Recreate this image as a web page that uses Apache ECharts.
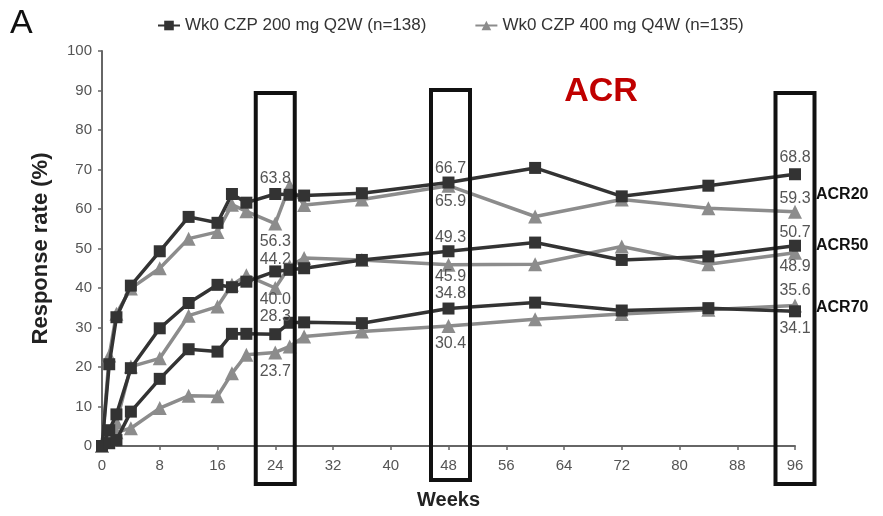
<!DOCTYPE html>
<html>
<head>
<meta charset="utf-8">
<script src="https://cdn.jsdelivr.net/npm/echarts@6/dist/echarts.min.js"></script>
<style>
html,body{margin:0;padding:0;background:#fff;}
#chart{width:883px;height:516px;}
</style>
</head>
<body>
<div id="chart"></div>
<script>
const weeks = [0,1,2,4,8,12,16,18,20,24,26,28,36,48,60,72,84,96];
const xTicks = [0,8,16,24,32,40,48,56,64,72,80,88,96];
const czp200_acr20 = [0,20.7,32.6,40.6,49.3,58.0,56.5,63.8,61.6,63.8,63.6,63.4,64.0,66.7,70.4,63.2,65.9,68.8];
const czp400_acr20 = [0,22.9,33.5,39.9,45.0,52.5,54.2,61.1,59.4,56.3,65.9,61.0,62.4,65.9,58.1,62.4,60.2,59.3];
const czp200_acr50 = [0,4.0,8.0,19.7,29.8,36.2,40.8,40.2,41.6,44.2,44.6,45.0,47.1,49.3,51.5,47.1,48.0,50.7];
const czp400_acr50 = [0,3.0,6.0,20.1,22.2,33.0,35.3,40.8,43.2,40.0,45.5,47.6,47.1,45.9,46.0,50.5,46.0,48.9];
const czp200_acr70 = [0,0.7,1.5,8.7,17.0,24.5,23.9,28.4,28.4,28.3,31.2,31.3,31.1,34.8,36.3,34.3,34.9,34.1];
const czp400_acr70 = [0,1.5,3.5,4.5,9.6,12.7,12.6,18.4,23.1,23.7,25.2,27.7,29.0,30.4,32.1,33.4,34.5,35.6];
const boxWeeks = [24,48,96];
const seriesNames = ['Wk0 CZP 200 mg Q2W (n=138)','Wk0 CZP 400 mg Q4W (n=135)'];
const endLabels = ['ACR20','ACR50','ACR70'];

const DARK = '#333333', GRAY = '#8c8c8c';
const FONT = '"Liberation Sans", Arial, sans-serif';

function mk(name, vals, dark, labelPos, labelDist) {
  const data = weeks.map((w, i) => {
    const k = boxWeeks.indexOf(w);
    if (k < 0) return [w, vals[i]];
    return {
      value: [w, vals[i]],
      label: {
        show: true, position: labelPos[k], distance: labelDist[k],
        offset: [w === 48 ? 2 : 0, 0],
        formatter: vals[i].toFixed(1), color: '#555', fontSize: 16, fontFamily: FONT
      }
    };
  });
  return {
    name: name, type: 'line', data: data,
    symbol: dark ? 'rect' : 'triangle',
    symbolSize: dark ? 12 : 14,
    lineStyle: { color: dark ? DARK : GRAY, width: 3.5 },
    itemStyle: { color: dark ? DARK : GRAY },
    z: dark ? 4 : 3,
    animation: false
  };
}

const chart = echarts.init(document.getElementById('chart'));
const option = {
  backgroundColor: '#fff',
  animation: false,
  legend: {
    left: 152, top: 12, itemGap: 48, itemWidth: 22, itemHeight: 12,
    data: seriesNames,
    textStyle: { fontSize: 17, color: '#333', fontFamily: FONT }
  },
  grid: { left: 102, right: 88, top: 51, bottom: 70 },
  xAxis: {
    type: 'value', min: 0, max: 96, interval: 8,
    name: 'Weeks', nameLocation: 'middle', nameGap: 44,
    nameTextStyle: { fontSize: 20, fontWeight: 'bold', color: '#222', fontFamily: FONT },
    axisLine: { lineStyle: { color: '#666', width: 2 } },
    axisTick: { length: 4, lineStyle: { color: '#666', width: 1.5 } },
    axisLabel: { color: '#555', fontSize: 15, margin: 12, fontFamily: FONT,
      customValues: xTicks },
    splitLine: { show: false }
  },
  yAxis: {
    type: 'value', min: 0, max: 100, interval: 10,
    name: 'Response rate (%)', nameLocation: 'middle', nameGap: 50, nameRotate: 90,
    nameTextStyle: { fontSize: 22, fontWeight: 'bold', color: '#222', fontFamily: FONT },
    axisLine: { show: true, lineStyle: { color: '#666', width: 2 } },
    axisTick: { show: true, length: 4, lineStyle: { color: '#666', width: 1.5 } },
    axisLabel: { color: '#555', fontSize: 15, margin: 10, fontFamily: FONT },
    splitLine: { show: false }
  },
  series: [
    mk(seriesNames[0], czp200_acr20, true, ['top','top','top'], [1,0,3]),
    mk(seriesNames[1], czp400_acr20, false, ['bottom','bottom','top'], [3,1,-2]),
    mk(seriesNames[0], czp200_acr50, true, ['top','top','top'], [-2,0,-1]),
    mk(seriesNames[1], czp400_acr50, false, ['bottom','bottom','bottom'], [-3,-3,-1]),
    mk(seriesNames[0], czp200_acr70, true, ['top','top','bottom'], [4,1,3]),
    mk(seriesNames[1], czp400_acr70, false, ['bottom','bottom','top'], [4,3,0])
  ]
};
chart.setOption(option);

const px = (x, y) => chart.convertToPixel({ gridIndex: 0 }, [x, y]);
const boxTops = [91, 88, 91];
const boxBottoms = [486, 482, 486];
const graphics = [];
boxWeeks.forEach((w, i) => {
  const c = px(w, 0)[0] + (w === 48 ? 2 : 0);
  graphics.push({
    type: 'rect', z: 100,
    shape: { x: c - 19.5, y: boxTops[i] + 2, width: 39, height: boxBottoms[i] - boxTops[i] - 4 },
    style: { fill: 'none', stroke: '#111', lineWidth: 4 }
  });
});
const endPairs = [[czp200_acr20, czp400_acr20],[czp200_acr50, czp400_acr50],[czp200_acr70, czp400_acr70]];
const endShift = [-0.5, 1, 0.3];
endPairs.forEach((p, i) => {
  const n = weeks.length - 1;
  const pt = px(96, (p[0][n] + p[1][n]) / 2 + endShift[i]);
  graphics.push({
    type: 'text', z: 100, x: pt[0] + 21, y: pt[1],
    style: { text: endLabels[i], fontSize: 16, fontWeight: 'bold', fill: '#111',
      fontFamily: FONT, verticalAlign: 'middle', align: 'left' }
  });
});
graphics.push({
  type: 'text', z: 100, x: 601, y: 92,
  style: { text: 'ACR', fontSize: 34, fontWeight: 'bold', fill: '#c00000',
    fontFamily: FONT, align: 'center', verticalAlign: 'middle' }
});
graphics.push({
  type: 'text', z: 100, x: 10, y: 24,
  style: { text: 'A', fontSize: 34, fill: '#111', fontFamily: FONT,
    align: 'left', verticalAlign: 'middle' }
});
chart.setOption({ graphic: graphics });
</script>
</body>
</html>
